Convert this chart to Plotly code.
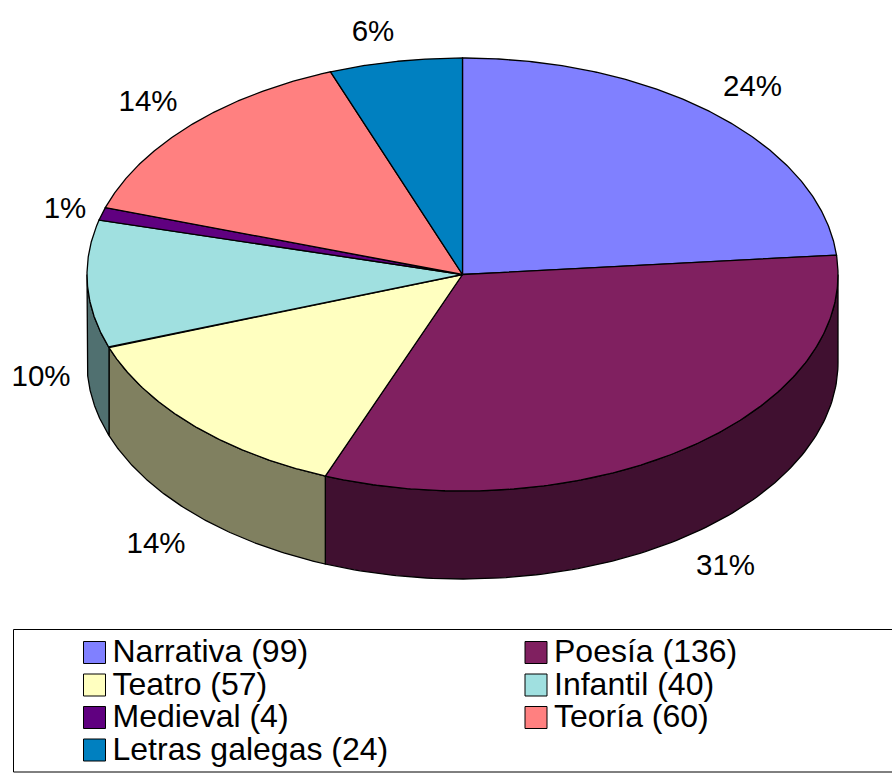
import numpy as np
import plotly.graph_objects as go

# ---- data ----
categories = ["Narrativa", "Poesía", "Teatro", "Infantil", "Medieval", "Teoría", "Letras galegas"]
values = [99, 136, 57, 40, 4, 60, 24]
pct_labels = ["24%", "31%", "14%", "10%", "1%", "14%", "6%"]
face_colors = ["#8080FF", "#802060", "#FFFFC0", "#A0E0E0", "#600080", "#FF8080", "#0080C0"]
side_colors = ["#404080", "#401030", "#808060", "#507070", "#300040", "#804040", "#004060"]

# ---- geometry (pixel space of the page) ----
W, H = 892, 773
CX, CY, RX, RY, DEPTH = 462.5, 274.5, 375.5, 216.5, 88
LABEL_POS = [(752.5, 89), (725.5, 568), (156, 546), (41, 379), (65, 211), (148, 104), (373, 34)]
FONT = "Liberation Sans, Arial, sans-serif"
LEG_X = [94.5, 536]
LEG_TEXT_DX = 18
LEG_Y0, LEG_DY = 652.5, 32.5
LEG_TEXT_DY = 1.5
EDGE = dict(color="black", width=1.3)


def pt(theta, dy=0):
    return CX + RX * np.sin(theta), CY - RY * np.cos(theta) + dy


fig = go.Figure()
edges = np.concatenate([[0], np.cumsum(values)]) / sum(values) * 2 * np.pi

# sides: the visible lower half of the rim
for i in range(len(values)):
    a, b = max(edges[i], np.pi / 2), min(edges[i + 1], 3 * np.pi / 2)
    if b <= a:
        continue
    t = np.linspace(a, b, 120)
    x1, y1 = pt(t)
    x2, y2 = pt(t[::-1], DEPTH)
    fig.add_trace(go.Scatter(x=np.r_[x1, x2, x1[0]], y=np.r_[y1, y2, y1[0]], mode="lines",
                             fill="toself", fillcolor=side_colors[i], line=EDGE,
                             hoverinfo="skip", showlegend=False))

# top faces
for i in range(len(values)):
    t = np.linspace(edges[i], edges[i + 1], 200)
    x, y = pt(t)
    fig.add_trace(go.Scatter(x=np.r_[CX, x, CX], y=np.r_[CY, y, CY], mode="lines",
                             fill="toself", fillcolor=face_colors[i], line=EDGE,
                             name=categories[i], hoverinfo="skip", showlegend=False))

# percentage labels
fig.add_trace(go.Scatter(x=[p[0] for p in LABEL_POS], y=[p[1] for p in LABEL_POS], mode="text",
                         text=pct_labels, textposition="middle center",
                         textfont=dict(family=FONT, size=29.5, color="black"),
                         hoverinfo="skip", showlegend=False))

# legend
leg_x = [LEG_X[i % 2] for i in range(len(values))]
leg_y = [LEG_Y0 + (i // 2) * LEG_DY for i in range(len(values))]
leg_text = [f"{c} ({v})" for c, v in zip(categories, values)]
fig.add_trace(go.Scatter(x=leg_x, y=leg_y, mode="markers",
                         marker=dict(symbol="square", size=22, color=face_colors,
                                     line=dict(color="black", width=1)),
                         hoverinfo="skip", showlegend=False))
fig.add_trace(go.Scatter(x=[v + LEG_TEXT_DX for v in leg_x], y=[v + LEG_TEXT_DY for v in leg_y],
                         mode="text", text=leg_text, textposition="middle right",
                         textfont=dict(family=FONT, size=32, color="black"),
                         hoverinfo="skip", showlegend=False))

fig.add_shape(type="rect", x0=13.5, x1=W + 5, y0=629.5, y1=772, line=dict(color="black", width=1),
              fillcolor="rgba(0,0,0,0)", layer="below")

fig.update_layout(width=W, height=H, margin=dict(l=0, r=0, t=0, b=0), autosize=False,
                  paper_bgcolor="white", plot_bgcolor="white", showlegend=False,
                  xaxis=dict(range=[0, W], visible=False, fixedrange=True),
                  yaxis=dict(range=[H, 0], visible=False, fixedrange=True))
fig.write_html("out.html", config=dict(displayModeBar=False), default_width=f"{W}px", default_height=f"{H}px",
               post_script="document.body.style.margin='0';")
